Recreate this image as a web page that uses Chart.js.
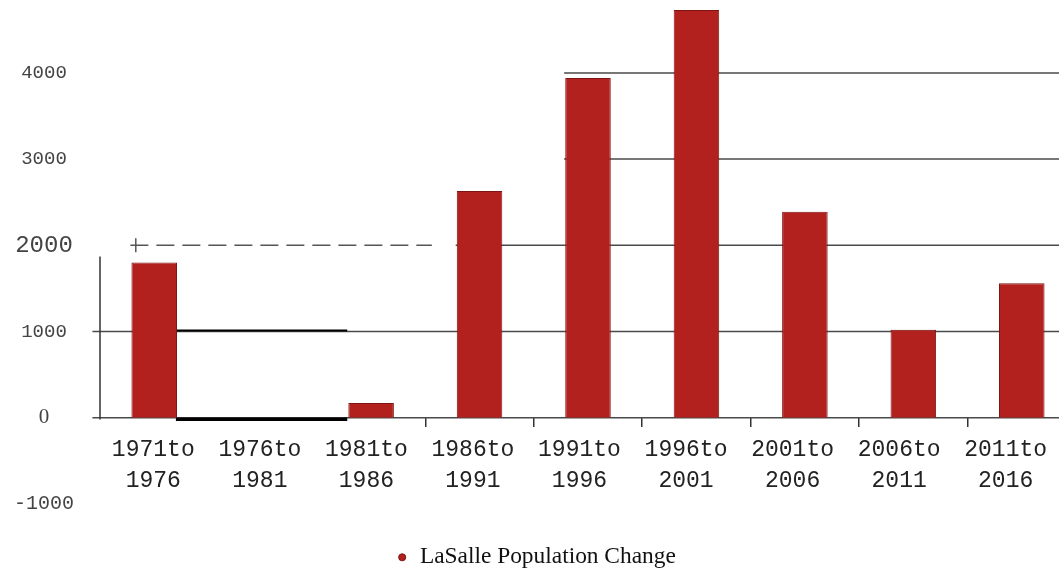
<!DOCTYPE html>
<html>
<head>
<meta charset="utf-8">
<script src="https://cdn.jsdelivr.net/npm/chart.js@4/dist/chart.umd.min.js"></script>
<style>
  html, body { margin: 0; padding: 0; background: #fff; overflow: hidden; }
  #wrap { position: relative; width: 1076px; height: 571px; }
</style>
</head>
<body>
<div id="wrap"><canvas id="c"></canvas></div>
<script>
// Census periods and population change per period
const periods = [
  ['1971to', '1976'], ['1976to', '1981'], ['1981to', '1986'],
  ['1986to', '1991'], ['1991to', '1996'], ['1996to', '2001'],
  ['2001to', '2006'], ['2006to', '2011'], ['2011to', '2016']
];
const populationChange = [1800, 0, 170, 2630, 3940, 4730, 2390, 1020, 1560];
const yTickValues = [-1000, 0, 1000, 2000, 3000, 4000];
const seriesName = 'LaSalle Population Change';

// Horizontal rules, given as [value, fromCategory, toCategory, style]
const rules = [
  [4000, 3.78, 8.6, 'grey'],
  [3000, 3.78, 8.6, 'grey'],
  [2000, -0.22, 2.56, 'dash'],
  [2000, 2.78, 8.6, 'grey'],
  [1000, -0.57, 8.6, 'grey'],
  [1000, 0.2, 1.78, 'black'],
  [0, -0.57, 8.6, 'grey'],
  [0, 0.2, 1.78, 'heavy']
];

const rulesPlugin = {
  id: 'rules',
  beforeDatasetsDraw(chart) {
    const { ctx, scales: { x, y } } = chart;
    ctx.save();
    rules.forEach(([v, a, b, style]) => {
      let py = y.getPixelForValue(v);
      ctx.beginPath();
      ctx.setLineDash(style === 'dash' ? [18, 8] : []);
      ctx.strokeStyle = style === 'black' || style === 'heavy' ? '#000' : (style === 'dash' ? '#555' : '#4a4a4a');
      ctx.lineWidth = style === 'heavy' ? 3.5 : (style === 'black' ? 2 : 1.5);
      if (style === 'heavy') py += 1.5;
      if (style === 'black') py -= 1;
      ctx.moveTo(x.getPixelForValue(a), py);
      ctx.lineTo(x.getPixelForValue(b), py);
      ctx.stroke();
    });
    // small cross mark at the start of the dashed rule
    ctx.setLineDash([]);
    ctx.strokeStyle = '#555';
    ctx.lineWidth = 1.5;
    const cx = x.getPixelForValue(-0.17), cy = y.getPixelForValue(2000);
    ctx.beginPath();
    ctx.moveTo(cx, cy - 7);
    ctx.lineTo(cx, cy + 7);
    ctx.stroke();
    // short vertical axis line
    const ax = x.getPixelForValue(-0.5);
    ctx.strokeStyle = '#333';
    ctx.beginPath();
    ctx.moveTo(ax, y.getPixelForValue(1870));
    ctx.lineTo(ax, y.getPixelForValue(-20));
    ctx.stroke();
    ctx.restore();
  }
};

const noSidePadding = s => { s.paddingLeft = 0; s.paddingRight = 0; };

new Chart(document.getElementById('c'), {
  type: 'bar',
  data: {
    labels: periods,
    datasets: [{
      label: seriesName,
      data: populationChange,
      xAxisID: 'x',
      backgroundColor: '#b3211f',
      borderColor: '#7d1515',
      borderWidth: 1,
      barPercentage: 0.42,
      categoryPercentage: 1.0
    }]
  },
  options: {
    responsive: true,
    maintainAspectRatio: false,
    animation: false,
    layout: { padding: { left: -4, top: 0, right: 0, bottom: -8 } },
    plugins: {
      tooltip: { enabled: false },
      legend: {
        position: 'bottom',
        labels: {
          usePointStyle: true,
          pointStyle: 'circle',
          boxWidth: 12,
          boxHeight: 5,
          padding: 10,
          color: '#111',
          font: { family: 'Liberation Serif', size: 23.4 }
        }
      }
    },
    scales: {
      x: {
        position: { y: 0 },
        afterFit: noSidePadding,
        grid: {
          offset: true,
          drawOnChartArea: false,
          tickLength: 9,
          lineWidth: 1.5,
          color: c => (c.index >= 3 ? '#333' : 'rgba(0,0,0,0)')
        },
        border: { display: false },
        ticks: { display: false }
      },
      // period captions, set on their own slightly tighter spacing
      xLabels: {
        type: 'linear',
        axis: 'x',
        position: { y: 0 },
        offset: false,
        bounds: 'data',
        min: -0.5,
        max: 8.66,
        afterBuildTicks: s => { s.ticks = periods.map((p, i) => ({ value: i })); },
        afterFit: noSidePadding,
        grid: { display: false, drawTicks: false, offset: false },
        border: { display: false },
        ticks: {
          autoSkip: false,
          maxRotation: 0,
          padding: 17,
          color: '#222',
          font: { family: 'Liberation Mono', size: 23, lineHeight: 1.35 },
          callback: v => periods[v]
        }
      },
      y: {
        min: -1368,
        max: 4846,
        afterBuildTicks: s => { s.ticks = yTickValues.map(v => ({ value: v })); },
        afterFit: s => { s.width = 104; s.paddingTop = 0; s.paddingBottom = 0; },
        grid: { display: false, drawTicks: false },
        border: { display: false },
        ticks: {
          crossAlign: 'center',
          padding: 26,
          color: '#444',
          callback: v => String(v),
          font: c => {
            const v = c.tick ? c.tick.value : null;
            if (v === 0) return { family: 'Liberation Serif', size: 21 };
            if (v === 2000) return { family: 'Liberation Mono', size: 24 };
            if (v === -1000) return { family: 'Liberation Mono', size: 20 };
            return { family: 'Liberation Mono', size: 19 };
          }
        }
      }
    }
  },
  plugins: [rulesPlugin]
});
</script>
</body>
</html>
